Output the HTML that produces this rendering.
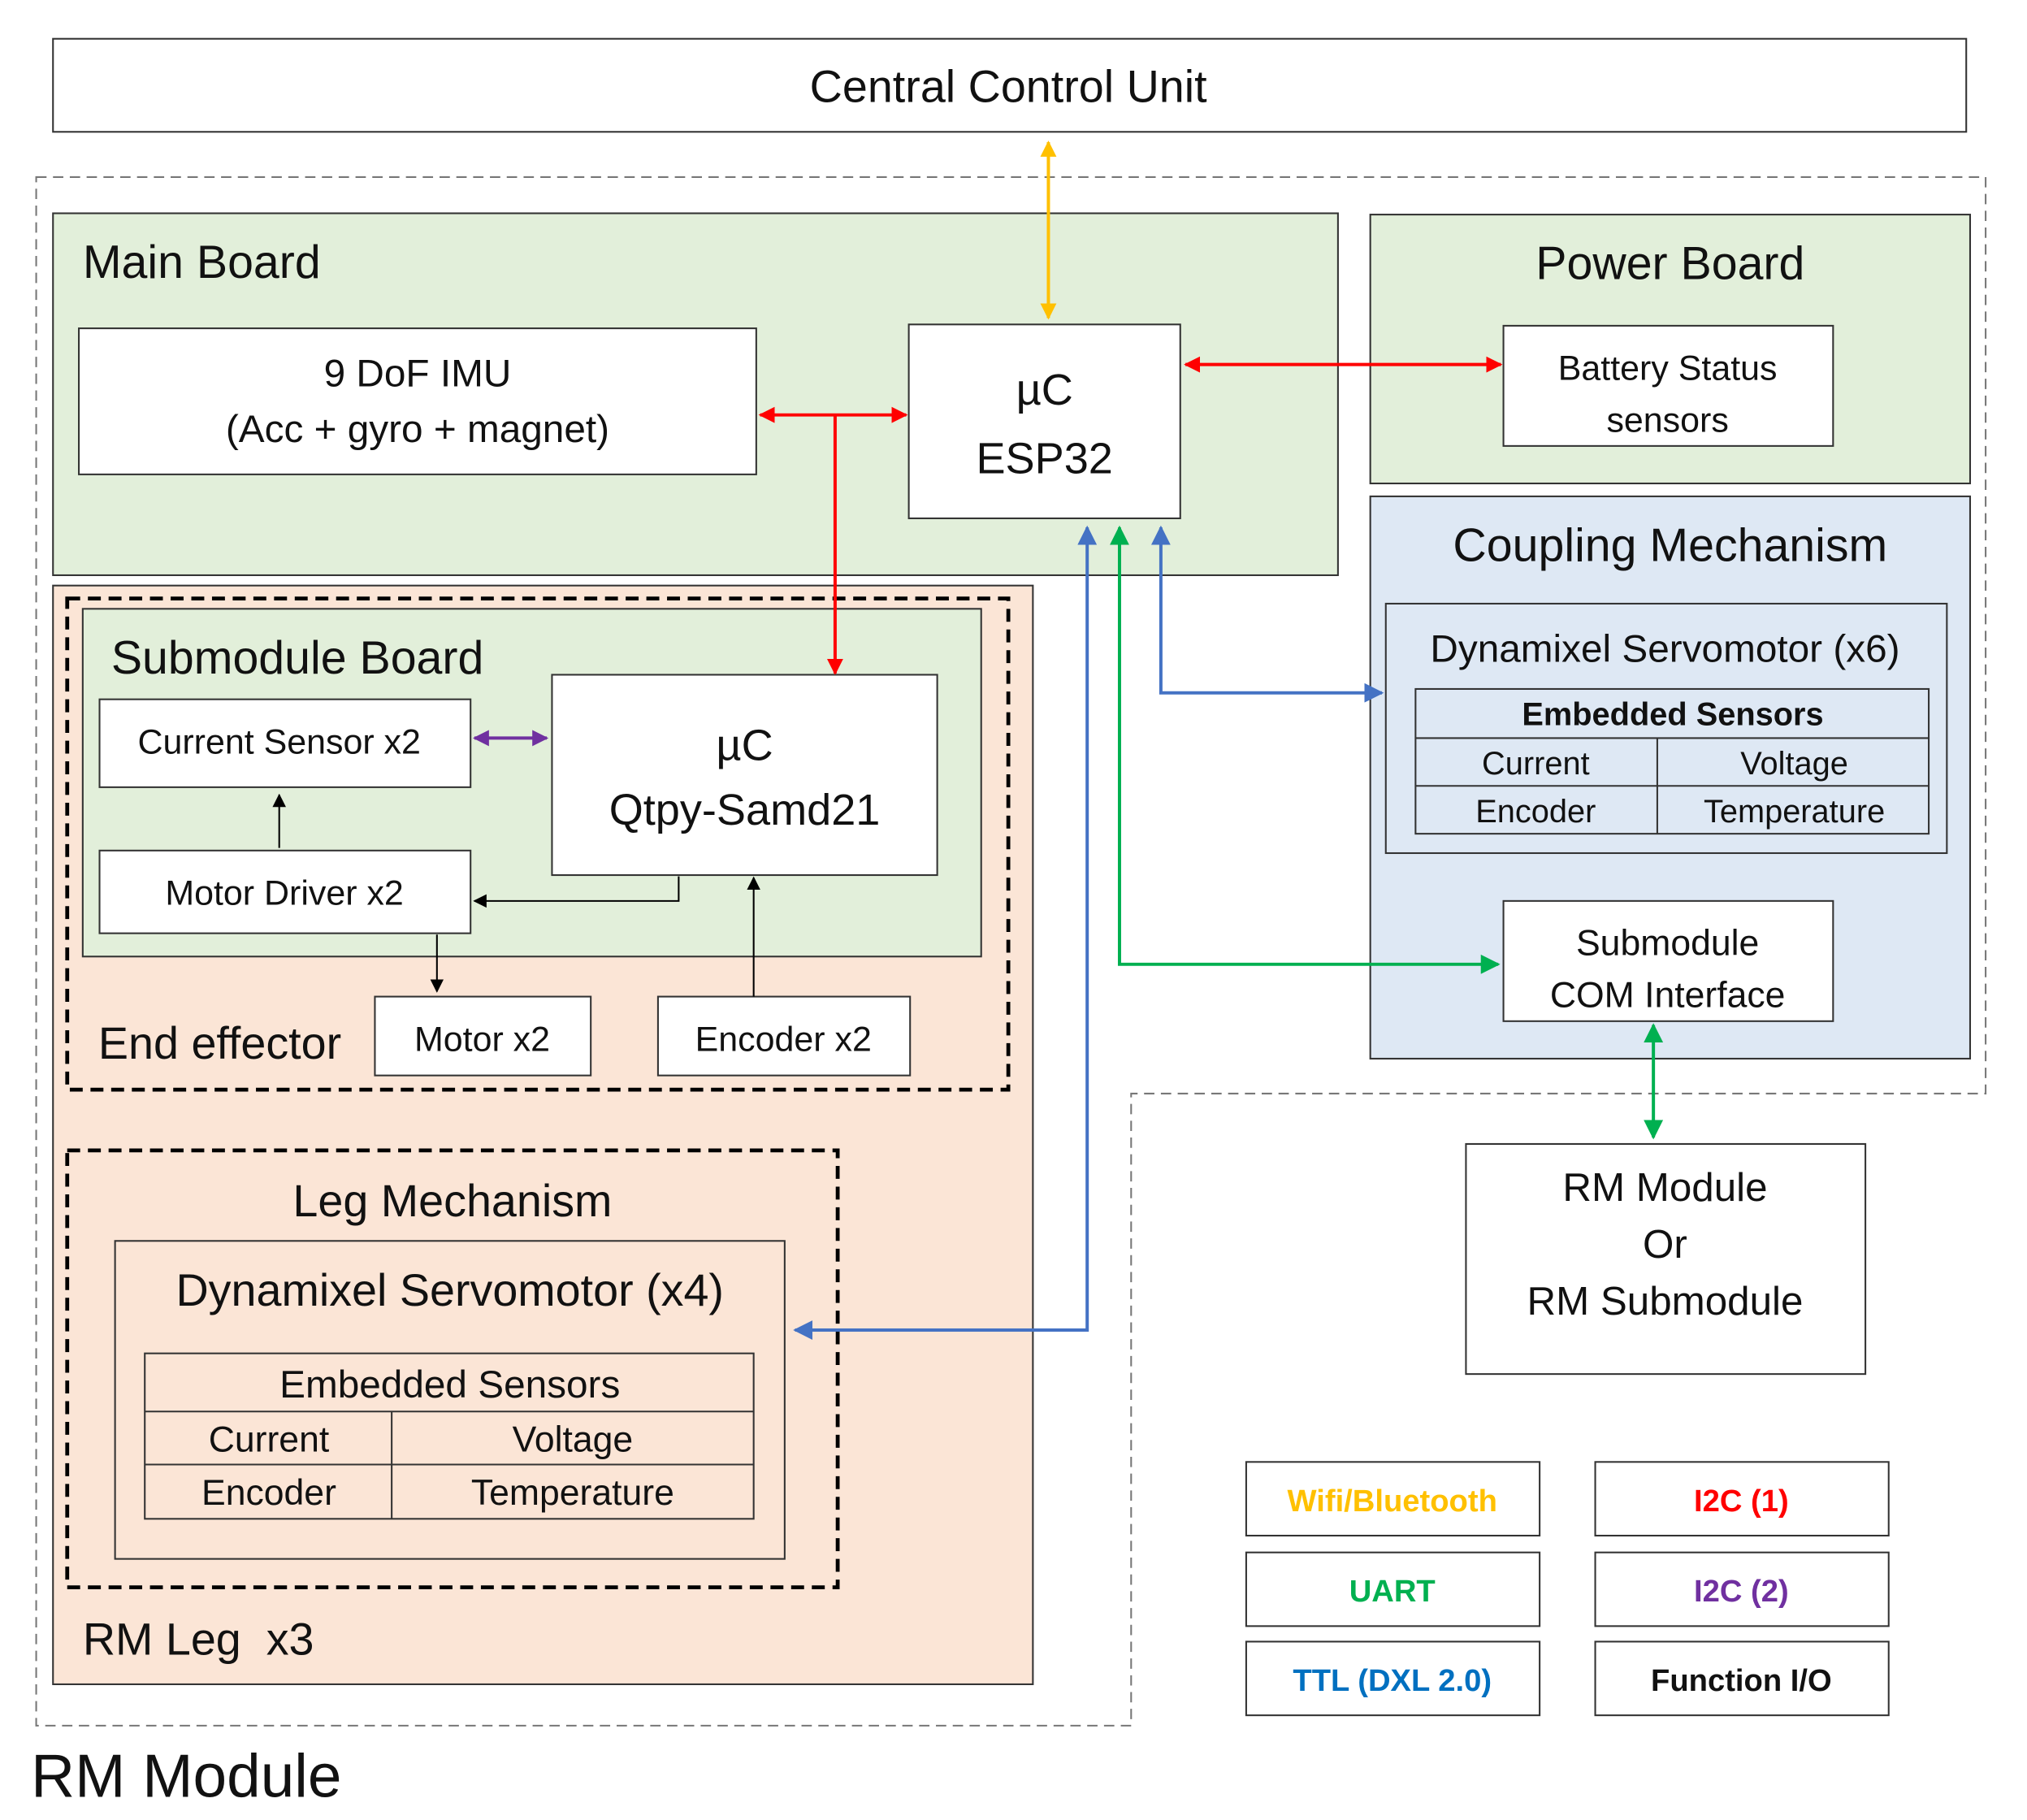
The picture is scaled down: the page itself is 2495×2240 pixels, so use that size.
<!DOCTYPE html>
<html><head><meta charset="utf-8"><style>
html,body{margin:0;padding:0;background:#fff;}
svg{display:block;}
text{font-family:"Liberation Sans",sans-serif;fill:#111;}
</style></head><body>
<svg width="2495" height="2240" viewBox="0 0 1568 1408" preserveAspectRatio="none" xmlns="http://www.w3.org/2000/svg">
<defs>
<marker id="ay" viewBox="0 0 10 10" refX="9" refY="5" markerWidth="5" markerHeight="5" orient="auto-start-reverse"><path d="M0,0L10,5L0,10z" fill="#ffc000"/></marker>
<marker id="ar" viewBox="0 0 10 10" refX="9" refY="5" markerWidth="5" markerHeight="5" orient="auto-start-reverse"><path d="M0,0L10,5L0,10z" fill="#ff0000"/></marker>
<marker id="ap" viewBox="0 0 10 10" refX="9" refY="5" markerWidth="5" markerHeight="5" orient="auto-start-reverse"><path d="M0,0L10,5L0,10z" fill="#7030a0"/></marker>
<marker id="ak" viewBox="0 0 10 10" refX="9" refY="5" markerWidth="8" markerHeight="8" orient="auto-start-reverse"><path d="M0,0L10,5L0,10z" fill="#000"/></marker>
<marker id="ab" viewBox="0 0 10 10" refX="9" refY="5" markerWidth="6" markerHeight="6" orient="auto-start-reverse"><path d="M0,0L10,5L0,10z" fill="#4472c4"/></marker>
<marker id="ag" viewBox="0 0 10 10" refX="9" refY="5" markerWidth="6" markerHeight="6" orient="auto-start-reverse"><path d="M0,0L10,5L0,10z" fill="#00b050"/></marker>
</defs>
<g stroke="#333" stroke-width="1.3">
<rect x="41" y="30" width="1480" height="72" fill="#fff"/>
<path d="M28,137H1536V846H875V1335H28Z" fill="none" stroke="#777" stroke-dasharray="8,5"/>
<rect x="41" y="165" width="994" height="280" fill="#e2efda"/>
<rect x="61" y="254" width="524" height="113" fill="#fff"/>
<rect x="703" y="251" width="210" height="150" fill="#fff"/>
<rect x="1060" y="166" width="464" height="208" fill="#e2efda"/>
<rect x="1163" y="252" width="255" height="93" fill="#fff"/>
<rect x="1060" y="384" width="464" height="435" fill="#dee8f4"/>
<rect x="1072" y="467" width="434" height="193" fill="none"/>
<rect x="1095" y="533" width="397" height="112" fill="none"/>
<path d="M1095,571H1492M1095,608H1492M1282,571V645" fill="none"/>
<rect x="1163" y="697" width="255" height="93" fill="#fff"/>
<rect x="41" y="453" width="758" height="850" fill="#fbe5d6"/>
<rect x="52" y="463" width="728" height="380" fill="none" stroke="#000" stroke-width="3" stroke-dasharray="10,6"/>
<rect x="64" y="471" width="695" height="269" fill="#e2efda"/>
<rect x="77" y="541" width="287" height="68" fill="#fff"/>
<rect x="427" y="522" width="298" height="155" fill="#fff"/>
<rect x="77" y="658" width="287" height="64" fill="#fff"/>
<rect x="290" y="771" width="167" height="61" fill="#fff"/>
<rect x="509" y="771" width="195" height="61" fill="#fff"/>
<rect x="52" y="890" width="596" height="338" fill="none" stroke="#000" stroke-width="3" stroke-dasharray="10,6"/>
<rect x="89" y="960" width="518" height="246" fill="none"/>
<rect x="112" y="1047" width="471" height="128" fill="none"/>
<path d="M112,1092H583M112,1133H583M303,1092V1175" fill="none"/>
<rect x="1134" y="885" width="309" height="178" fill="#fff"/>
<rect x="964" y="1131" width="227" height="57" fill="#fff"/>
<rect x="1234" y="1131" width="227" height="57" fill="#fff"/>
<rect x="964" y="1201" width="227" height="57" fill="#fff"/>
<rect x="1234" y="1201" width="227" height="57" fill="#fff"/>
<rect x="964" y="1270" width="227" height="57" fill="#fff"/>
<rect x="1234" y="1270" width="227" height="57" fill="#fff"/>
</g>
<g fill="none" stroke-width="2.5">
<path d="M811,110V246" stroke="#ffc000" marker-start="url(#ay)" marker-end="url(#ay)"/>
<path d="M917,282H1161" stroke="#ff0000" marker-start="url(#ar)" marker-end="url(#ar)"/>
<path d="M588,321H701" stroke="#ff0000" marker-start="url(#ar)" marker-end="url(#ar)"/>
<path d="M646,321V521" stroke="#ff0000" marker-end="url(#ar)"/>
<path d="M367,571H423" stroke="#7030a0" marker-start="url(#ap)" marker-end="url(#ap)"/>
<path d="M841,408V1029H615" stroke="#4472c4" marker-start="url(#ab)" marker-end="url(#ab)"/>
<path d="M898,408V536H1069" stroke="#4472c4" marker-start="url(#ab)" marker-end="url(#ab)"/>
<path d="M866,408V746H1159" stroke="#00b050" marker-start="url(#ag)" marker-end="url(#ag)"/>
<path d="M1279,793V880" stroke="#00b050" marker-start="url(#ag)" marker-end="url(#ag)"/>
</g>
<g fill="none" stroke="#000" stroke-width="1.3">
<path d="M216,656V615" marker-end="url(#ak)"/>
<path d="M525,678V697H367" marker-end="url(#ak)"/>
<path d="M338,723V767" marker-end="url(#ak)"/>
<path d="M583,771V679" marker-end="url(#ak)"/>
</g>
<g text-anchor="middle">
<text x="780" y="79" font-size="35">Central Control Unit</text>
<text x="323" y="299" font-size="30">9 DoF IMU</text>
<text x="323" y="342" font-size="30">(Acc + gyro + magnet)</text>
<text x="808" y="313" font-size="34">µC</text>
<text x="808" y="366" font-size="34">ESP32</text>
<text x="1292" y="216" font-size="36">Power Board</text>
<text x="1290" y="294" font-size="27">Battery Status</text>
<text x="1290" y="334" font-size="27">sensors</text>
<text x="1292" y="434" font-size="36">Coupling Mechanism</text>
<text x="1288" y="512" font-size="30">Dynamixel Servomotor (x6)</text>
<text x="1294" y="561" font-size="25" font-weight="bold">Embedded Sensors</text>
<text x="1188" y="599" font-size="25">Current</text>
<text x="1388" y="599" font-size="25">Voltage</text>
<text x="1188" y="636" font-size="25">Encoder</text>
<text x="1388" y="636" font-size="25">Temperature</text>
<text x="1290" y="739" font-size="28">Submodule</text>
<text x="1290" y="779" font-size="28">COM Interface</text>
<text x="216" y="583" font-size="27">Current Sensor x2</text>
<text x="576" y="588" font-size="34">µC</text>
<text x="576" y="638" font-size="34">Qtpy-Samd21</text>
<text x="220" y="700" font-size="27">Motor Driver x2</text>
<text x="373" y="813" font-size="27">Motor x2</text>
<text x="606" y="813" font-size="27">Encoder x2</text>
<text x="350" y="941" font-size="35">Leg Mechanism</text>
<text x="348" y="1010" font-size="35">Dynamixel Servomotor (x4)</text>
<text x="348" y="1081" font-size="30">Embedded Sensors</text>
<text x="208" y="1123" font-size="28">Current</text>
<text x="443" y="1123" font-size="28">Voltage</text>
<text x="208" y="1164" font-size="28">Encoder</text>
<text x="443" y="1164" font-size="28">Temperature</text>
<text x="1288" y="929" font-size="31">RM Module</text>
<text x="1288" y="973" font-size="31">Or</text>
<text x="1288" y="1017" font-size="31">RM Submodule</text>
<g font-weight="bold" font-size="24">
<text x="1077" y="1169" style="fill:#ffc000">Wifi/Bluetooth</text>
<text x="1347" y="1169" style="fill:#ff0000">I2C (1)</text>
<text x="1077" y="1239" style="fill:#00b050">UART</text>
<text x="1347" y="1239" style="fill:#7030a0">I2C (2)</text>
<text x="1077" y="1308" style="fill:#0070c0">TTL (DXL 2.0)</text>
<text x="1347" y="1308">Function I/O</text>
</g>
</g>
<text x="64" y="215" font-size="36">Main Board</text>
<text x="86" y="521" font-size="36">Submodule Board</text>
<text x="76" y="819" font-size="35">End effector</text>
<text x="64" y="1280" font-size="35">RM Leg &#160;x3</text>
<text x="24" y="1390" font-size="47">RM Module</text>
</svg>
</body></html>
